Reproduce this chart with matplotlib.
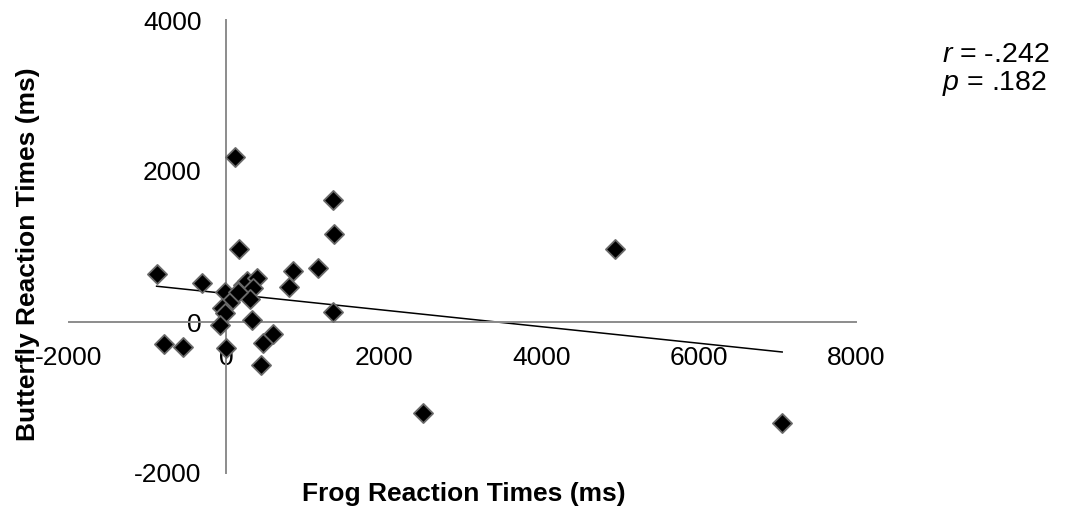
import numpy as np
import matplotlib
matplotlib.use("Agg")
import matplotlib.pyplot as plt

plt.rcParams["font.family"] = ["Liberation Sans", "DejaVu Sans"]
plt.rcParams["axes.unicode_minus"] = False
plt.rcParams["mathtext.fontset"] = "custom"
plt.rcParams["mathtext.rm"] = "Liberation Sans"
plt.rcParams["mathtext.it"] = "Liberation Sans:italic"

# reaction times (ms)
frog_rt = [108, 1349, 1370, 159, -887, -315, 841, 1167, 798, 1357,
           -19, 44, -61, -19, -83, 320, 213, 257, 384, 341,
           298, 150, -790, -557, -6, 468, 595, 434, 4936, 2501, 7062]
butterfly_rt = [2189, 1616, 1165, 967, 636, 515, 675, 711, 468, 128,
                401, 269, 181, 120, -40, 20, 490, 547, 578, 446,
                300, 401, -291, -327, -349, -283, -160, -570, 967, -1210, -1342]

x_ticks = [-2000, 0, 2000, 4000, 6000, 8000]
y_ticks = [-2000, 0, 2000, 4000]
r_text = r"$\it{r}$ = -.242"
p_text = r"$\it{p}$ = .182"

fs = 19
axis_grey = "#8c8c8c"

fig = plt.figure(figsize=(10.66, 5.12), dpi=100)
ax = fig.add_axes([69 / 1066, 39 / 512, 787 / 1066, 453 / 512])

x = np.array(frog_rt)
y = np.array(butterfly_rt)

# linear trendline over the x range of the data
slope, icpt = np.polyfit(x, y, 1)
xl = np.array([x.min(), x.max()])
ax.plot(xl, slope * xl + icpt, color="black", lw=1.1, zorder=2)

ax.scatter(x, y, marker="D", s=95, facecolor="black",
           edgecolor="#6a6a6a", linewidth=1.3, zorder=3)

ax.set_xlim(-2000, 8000)
ax.set_ylim(-2000, 4000)
ax.set_xticks(x_ticks)
ax.set_yticks(y_ticks)

# axes cross at zero like the Excel chart
for side in ["top", "right"]:
    ax.spines[side].set_visible(False)
ax.spines["left"].set_position(("data", 0))
ax.spines["bottom"].set_position(("data", 0))
for side in ["left", "bottom"]:
    ax.spines[side].set_color(axis_grey)
    ax.spines[side].set_linewidth(1.4)

ax.tick_params(axis="x", length=0, pad=17, labelsize=fs)
ax.tick_params(axis="y", length=0, pad=18, labelsize=fs)

fig.text(28 / 1066, 1 - 254 / 512, "Butterfly Reaction Times (ms)",
         rotation=90, ha="center", va="center", fontsize=fs, fontweight="bold")
fig.text(464 / 1066, 1 - 494 / 512, "Frog Reaction Times (ms)",
         ha="center", va="center", fontsize=fs, fontweight="bold")

fig.text(942 / 1066, 1 - 55 / 512, r_text, ha="left", va="center", fontsize=20.5)
fig.text(942 / 1066, 1 - 83 / 512, p_text, ha="left", va="center", fontsize=20.5)

fig.savefig("out.png", dpi=100)
